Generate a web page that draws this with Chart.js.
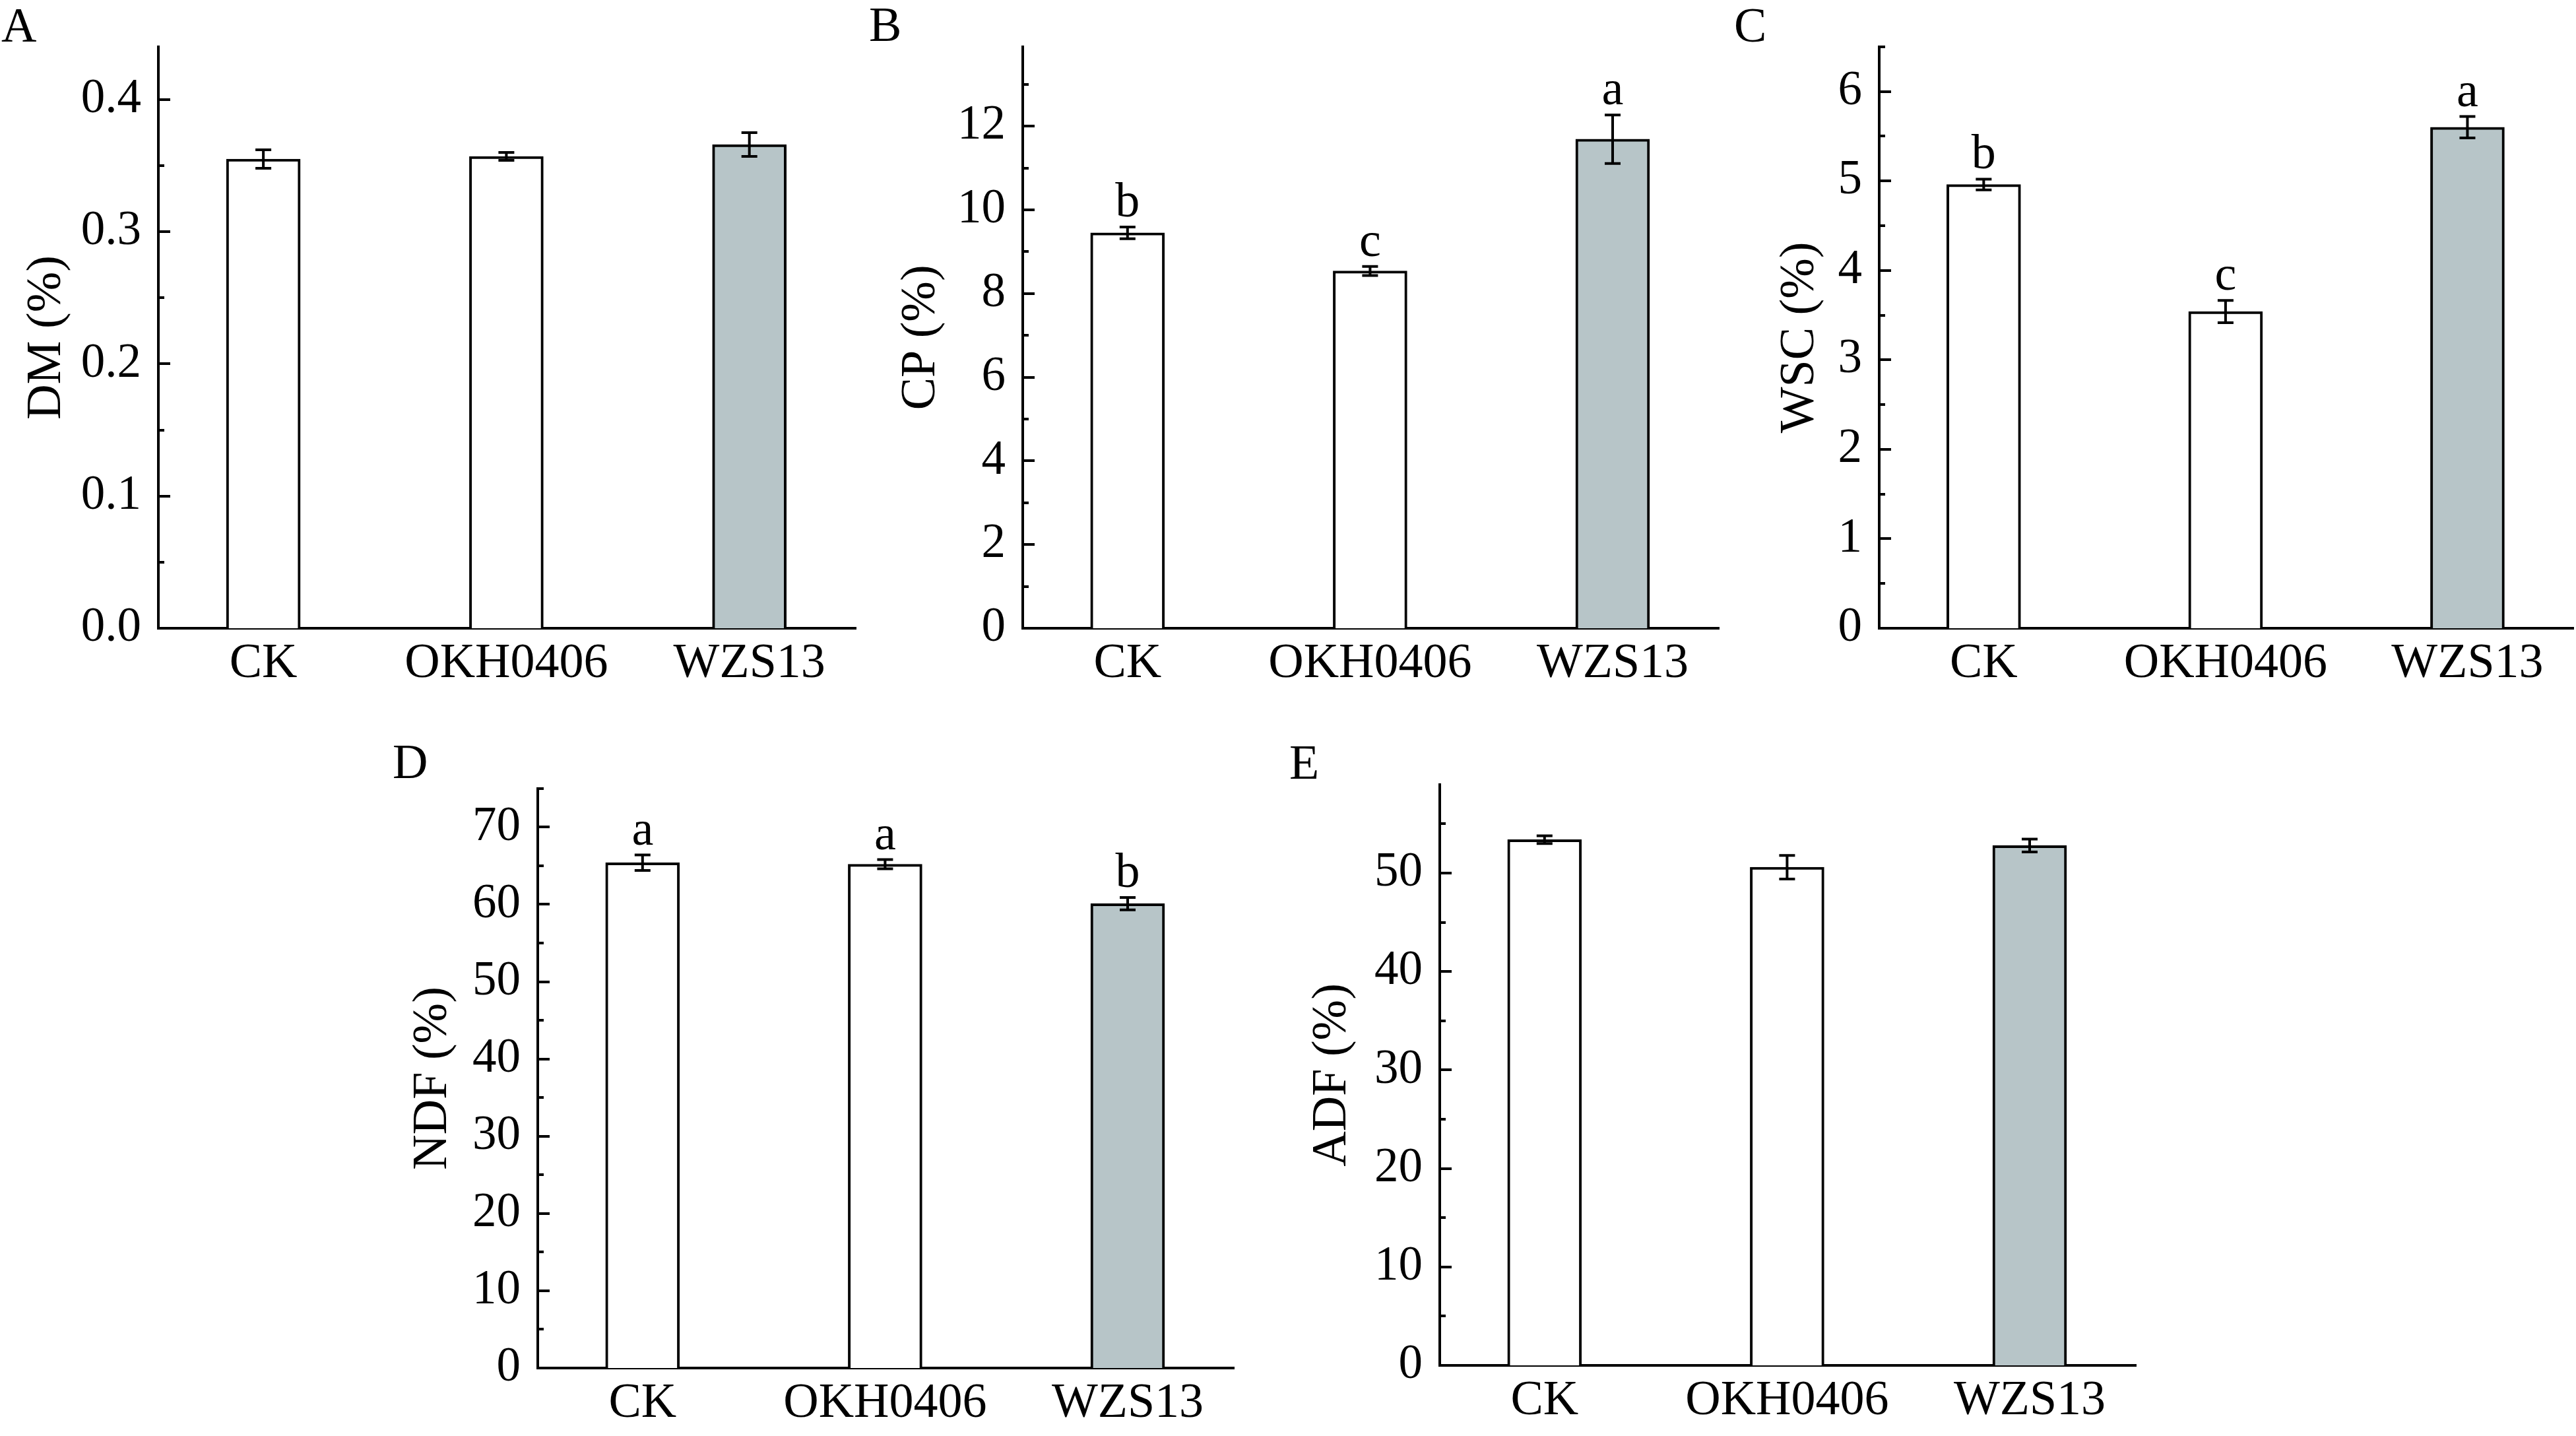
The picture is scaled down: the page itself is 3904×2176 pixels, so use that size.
<!DOCTYPE html>
<html><head><meta charset="utf-8">
<script src="https://cdn.jsdelivr.net/npm/chart.js@4.4.1/dist/chart.umd.min.js"></script>
<style>
html,body{margin:0;padding:0;background:#fff;width:3904px;height:2176px;overflow:hidden;position:relative;}
canvas{position:absolute;}
.lbl{position:absolute;font-family:"Liberation Serif",serif;font-size:74px;line-height:74px;color:#000;}
</style></head><body>
<div class="lbl" style="left:2px;top:1px;">A</div>
<div class="lbl" style="left:1317px;top:0px;">B</div>
<div class="lbl" style="left:2628px;top:1px;">C</div>
<div class="lbl" style="left:595px;top:1117px;">D</div>
<div class="lbl" style="left:1954px;top:1118px;">E</div>
<script>
const categories = ['CK', 'OKH0406', 'WZS13'];

const dmValues  = [0.355, 0.357, 0.366];
const dmErrors  = [0.007, 0.003, 0.009];

const cpValues  = [9.45, 8.54, 11.69];
const cpErrors  = [0.14, 0.11, 0.58];
const cpLetters = ['b', 'c', 'a'];

const wscValues  = [4.96, 3.54, 5.60];
const wscErrors  = [0.06, 0.125, 0.12];
const wscLetters = ['b', 'c', 'a'];

const ndfValues  = [65.4, 65.2, 60.1];
const ndfErrors  = [1.0, 0.6, 0.8];
const ndfLetters = ['a', 'a', 'b'];

const adfValues = [53.4, 50.6, 52.8];
const adfErrors = [0.4, 1.2, 0.65];

const barColors = ['#ffffff', '#ffffff', '#b7c5c8'];

const FAMILY = '"Liberation Serif", "Times New Roman", serif';
Chart.defaults.font.family = FAMILY;
Chart.defaults.color = '#000';

const panels = [
  {title:'DM (%)',  values:dmValues,  errors:dmErrors,  letters:null,       yMax:0.44, step:0.1, dec:1, axisX:240,  plotTop:61,   plotBottom:952,  plotW:1057, pr:12, tpad:35},
  {title:'CP (%)',  values:cpValues,  errors:cpErrors,  letters:cpLetters,  yMax:13.9, step:2,   dec:0, axisX:1550, plotTop:61,   plotBottom:952,  plotW:1055, pr:12, tpad:50},
  {title:'WSC (%)', values:wscValues, errors:wscErrors, letters:wscLetters, yMax:6.5,  step:1,   dec:0, axisX:2848, plotTop:61,   plotBottom:952,  plotW:1052, pr:4,  tpad:84},
  {title:'NDF (%)', values:ndfValues, errors:ndfErrors, letters:ndfLetters, yMax:75,   step:10,  dec:0, axisX:815,  plotTop:1185, plotBottom:2073, plotW:1055, pr:12, tpad:45},
  {title:'ADF (%)', values:adfValues, errors:adfErrors, letters:null,       yMax:59,   step:10,  dec:0, axisX:2182, plotTop:1179, plotBottom:2069, plotW:1055, pr:12, tpad:41}
];

function makeDeco(p) {
  return {
    id: 'deco',
    afterDatasetsDraw(chart) {
      const {ctx, chartArea: a, scales: {x, y}} = chart;
      ctx.save();
      ctx.strokeStyle = '#000';
      ctx.lineWidth = 4;
      ctx.lineCap = 'butt';
      const half = p.step / 2;
      const n = Math.floor(p.yMax / half + 1e-6);
      for (let k = 1; k <= n; k++) {
        const py = Math.round(y.getPixelForValue(k * half));
        const len = (k % 2 === 0) ? 18 : 9;
        ctx.beginPath();
        ctx.moveTo(a.left, py);
        ctx.lineTo(a.left + len, py);
        ctx.stroke();
      }
      p.values.forEach((v, i) => {
        const px = x.getPixelForValue(i);
        const e = p.errors[i];
        const yt = y.getPixelForValue(v + e);
        const yb = y.getPixelForValue(v - e);
        ctx.beginPath();
        ctx.moveTo(px, yt); ctx.lineTo(px, yb);
        ctx.moveTo(px - 12, yt); ctx.lineTo(px + 12, yt);
        ctx.moveTo(px - 12, yb); ctx.lineTo(px + 12, yb);
        ctx.stroke();
        if (p.letters) {
          ctx.fillStyle = '#000';
          ctx.font = '74px ' + FAMILY;
          ctx.textAlign = 'center';
          ctx.textBaseline = 'alphabetic';
          ctx.fillText(p.letters[i], px, yt - 16);
        }
      });
      ctx.restore();
    }
  };
}

function makeChart(p) {
  const W = 240, PT = 60, XH = 110;
  const cv = document.createElement('canvas');
  const cw = W + p.plotW + p.pr;
  const ch = PT + (p.plotBottom - p.plotTop) + XH;
  cv.width = cw; cv.height = ch;
  cv.style.width = cw + 'px'; cv.style.height = ch + 'px';
  cv.style.left = (p.axisX - W) + 'px';
  cv.style.top = (p.plotTop - PT) + 'px';
  document.body.appendChild(cv);
  new Chart(cv, {
    type: 'bar',
    data: {
      datasets: [{
        data: p.values.map((v, i) => ({x: i, y: v})),
        backgroundColor: barColors,
        borderColor: '#000',
        borderWidth: 4,
        borderSkipped: 'start',
        barThickness: 112
      }]
    },
    options: {
      responsive: false,
      animation: false,
      devicePixelRatio: 1,
      events: [],
      layout: {padding: {top: PT, right: p.pr, left: 0, bottom: 0}},
      plugins: {legend: {display: false}, tooltip: {enabled: false}},
      scales: {
        x: {
          type: 'linear', min: -0.432, max: 2.438, offset: false, z: 1,
          grid: {display: false, drawTicks: false},
          border: {display: true, color: '#000', width: 4},
          ticks: {
            stepSize: 1, includeBounds: false, autoSkip: false, maxRotation: 0, minRotation: 0,
            padding: 10, color: '#000', font: {family: FAMILY, size: 74},
            callback: (v) => (categories[v] !== undefined ? categories[v] : '')
          },
          afterFit: (s) => { s.height = XH; }
        },
        y: {
          type: 'linear', min: 0, max: p.yMax, z: 1,
          grid: {display: false, drawTicks: false},
          border: {display: true, color: '#000', width: 4},
          ticks: {
            stepSize: p.step, includeBounds: false, padding: 26, color: '#000', font: {family: FAMILY, size: 73},
            callback: (v) => Number(v).toFixed(p.dec)
          },
          title: {display: true, text: p.title, color: '#000', font: {family: FAMILY, size: 74, lineHeight: 1}, padding: {top: p.tpad, bottom: 0}},
          afterFit: (s) => { s.width = W; }
        }
      }
    },
    plugins: [makeDeco(p)]
  });
}

panels.forEach(makeChart);
</script>
</body></html>
